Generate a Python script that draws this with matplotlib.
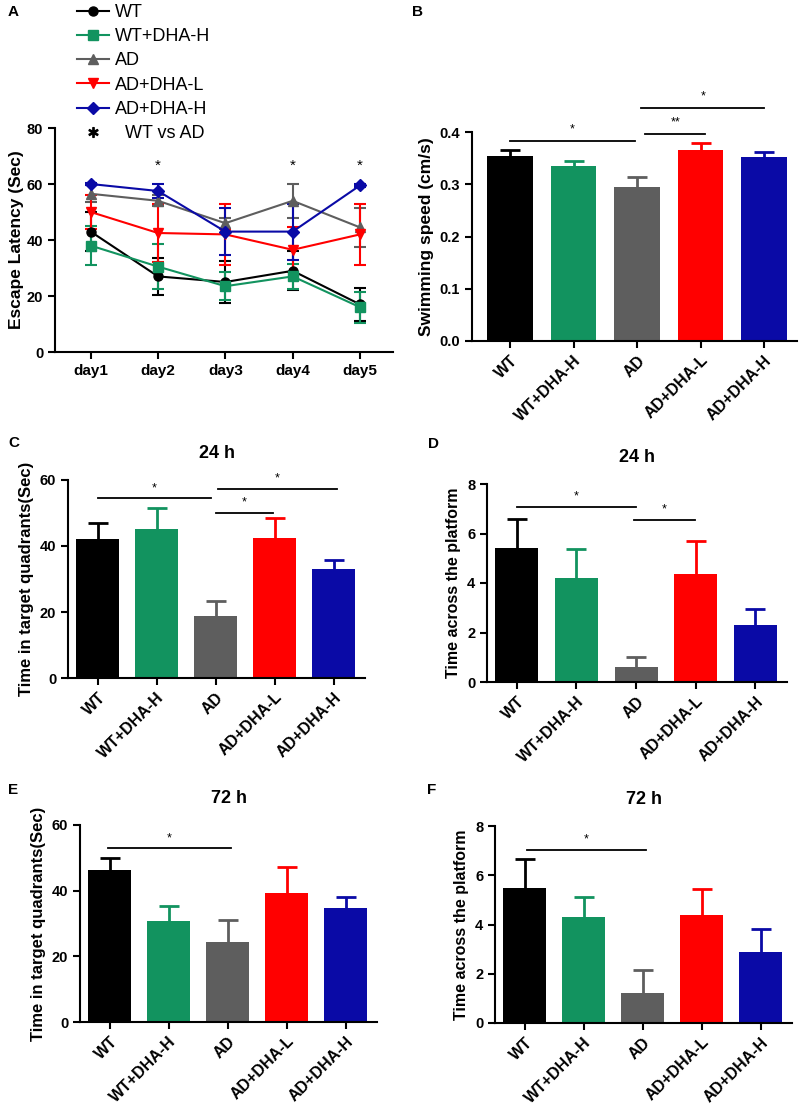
import matplotlib
matplotlib.use("Agg")
import matplotlib.pyplot as plt
from matplotlib.lines import Line2D

plt.rcParams['font.family'] = ['Liberation Sans', 'DejaVu Sans']

W, H = 800, 1104

groups = ["WT", "WT+DHA-H", "AD", "AD+DHA-L", "AD+DHA-H"]
colors = ["#000000", "#12935f", "#5e5e5e", "#ff0000", "#0a0aa6"]
markers = ["o", "s", "^", "v", "D"]

# Panel A: escape latency
days = ["day1", "day2", "day3", "day4", "day5"]
lat_WT = [43, 27, 25, 29, 17]
lat_WT_err = [7, 6.5, 7.5, 7, 6]
lat_WTH = [38, 30.5, 23.5, 27, 16]
lat_WTH_err = [7, 8, 5, 4.5, 5.5]
lat_AD = [56.5, 54, 46, 54, 44.5]
lat_AD_err = [3, 2, 2, 6, 7]
lat_ADL = [50, 42.5, 42, 36.5, 42]
lat_ADL_err = [6, 10.5, 11, 8, 11]
lat_ADH = [60, 57.5, 43, 43, 59.5]
lat_ADH_err = [0.5, 2.5, 8.5, 10, 0.5]
sig_days_A = [2, 4, 5]
sig_y_A = 66.5

# Panel B: swimming speed
speed = [0.355, 0.335, 0.295, 0.366, 0.352]
speed_err = [0.011, 0.010, 0.019, 0.013, 0.009]
sig_B = [(0, 1.96, 0.383, "*", 0.405), (2.13, 3.07, 0.396, "**", 0.418), (2.07, 4.0, 0.446, "*", 0.468)]

# Panel C: 24 h time in target quadrants
quad24 = [42.1, 45.3, 18.9, 42.3, 33.0]
quad24_err = [4.9, 6.3, 4.5, 6.1, 2.9]
sig_C = [(0, 1.92, 54.4, "*", 57.5), (2.0, 2.97, 50.1, "*", 53.2), (2.04, 4.05, 57.4, "*", 60.5)]

# Panel D: 24 h platform crossings
cross24 = [5.40, 4.20, 0.61, 4.36, 2.29]
cross24_err = [1.17, 1.18, 0.40, 1.35, 0.64]
sig_D = [(0, 2.0, 7.06, "*", 7.48), (1.97, 2.98, 6.55, "*", 6.97)]

# Panel E: 72 h time in target quadrants
quad72 = [46.3, 30.7, 24.4, 39.4, 34.75]
quad72_err = [3.8, 4.5, 6.6, 7.9, 3.45]
sig_E = [(-0.02, 2.05, 52.9, "*", 56.0)]

# Panel F: 72 h platform crossings
cross72 = [5.47, 4.29, 1.21, 4.39, 2.87]
cross72_err = [1.21, 0.84, 0.95, 1.05, 0.93]
sig_F = [(0.05, 2.05, 7.04, "*", 7.46)]

fig = plt.figure(figsize=(W / 100, H / 100), dpi=100)


def rect(l, r, t, b):
    return [l / W, 1 - b / H, (r - l) / W, (b - t) / H]


def style(ax, xsize=10.5):
    for s in ["top", "right"]:
        ax.spines[s].set_visible(False)
    for s in ["left", "bottom"]:
        ax.spines[s].set_linewidth(1.5)
    ax.tick_params(width=1.5, length=5, labelsize=10.5)
    ax.tick_params(axis="x", labelsize=xsize)
    for lab in ax.get_xticklabels() + ax.get_yticklabels():
        lab.set_fontweight("bold")


# ---------------- Panel A ----------------
axA = fig.add_axes(rect(55, 393, 128, 352))
series = [(lat_WT, lat_WT_err), (lat_WTH, lat_WTH_err), (lat_AD, lat_AD_err),
          (lat_ADL, lat_ADL_err), (lat_ADH, lat_ADH_err)]
xs = list(range(1, len(days) + 1))
handles = []
for (vals, errs), c, m, g in zip(series, colors, markers, groups):
    ms = 6.5 if m != "D" else 6
    axA.errorbar(xs, vals, yerr=errs, color=c, marker=m, ms=ms, lw=1.5,
                 elinewidth=1.5, capsize=4, capthick=1.5, clip_on=False, zorder=3)
    handles.append(Line2D([], [], color=c, marker=m, ms=ms, lw=1.5, label=g))
handles.append(Line2D([], [], ls="none", marker=r"$\ast$", ms=7, color="black", label="  WT vs AD"))
for d in sig_days_A:
    axA.text(d, sig_y_A, "*", ha="center", va="center", fontsize=11)
axA.set_xlim(0.47, 5.49)
axA.set_ylim(0, 80)
axA.set_yticks([0, 20, 40, 60, 80])
axA.set_xticks(xs)
axA.set_xticklabels(days)
axA.set_ylabel("Escape Latency (Sec)", fontsize=12.5, fontweight="bold", labelpad=2)
style(axA, xsize=11)
fig.legend(handles=handles, loc="upper left", bbox_to_anchor=(77 / W, 1 - 4 / H),
           frameon=False, fontsize=13, handlelength=1.75, handletextpad=0.35,
           labelspacing=0.4, borderpad=0, borderaxespad=0)


# ---------------- bar panels ----------------
def bar_panel(l, r, t, b, vals, errs, ymax, yticks, ylabel, sig, title=None,
              yfmt=None, ylsize=11.5):
    ax = fig.add_axes(rect(l, r, t, b))
    x = list(range(len(groups)))
    ax.bar(x, vals, width=0.72, color=colors, zorder=2)
    for xi, v, e, c in zip(x, vals, errs, colors):
        _, caps, _ = ax.errorbar([xi], [v], yerr=[[0], [e]], color=c, elinewidth=2,
                                 capsize=7, capthick=2, zorder=1)
        caps[0].set_visible(False)
    for x1, x2, y, s, ys in sig:
        ax.plot([x1, x2], [y, y], color="black", lw=1.3, clip_on=False)
        ax.text((x1 + x2) / 2, ys, s, ha="center", va="center", fontsize=9)
    ax.set_xlim(-0.5, 4.53)
    ax.set_ylim(0, ymax)
    ax.set_yticks(yticks)
    if yfmt:
        ax.set_yticklabels([yfmt.format(v) for v in yticks])
    ax.set_xticks(x)
    ax.set_xticklabels(groups, rotation=45, ha="right", rotation_mode="anchor")
    ax.set_ylabel(ylabel, fontsize=ylsize, fontweight="bold")
    if title:
        ax.set_title(title, fontsize=13, fontweight="bold", pad=16)
    style(ax, xsize=11.5)
    return ax


axB = bar_panel(472, 797, 132, 341, speed, speed_err, 0.4, [0, 0.1, 0.2, 0.3, 0.4],
                "Swimming speed (cm/s)", sig_B, yfmt="{:.1f}", ylsize=12.5)
axB.set_xlim(-0.6, 4.52)
axC = bar_panel(68, 365, 480, 678, quad24, quad24_err, 60, [0, 20, 40, 60],
                "Time in target quadrants(Sec)", sig_C, title="24 h", ylsize=12)
axD = bar_panel(487, 787, 484, 682, cross24, cross24_err, 8, [0, 2, 4, 6, 8],
                "Time across the platform", sig_D, title="24 h")
axE = bar_panel(80, 377, 825, 1022, quad72, quad72_err, 60, [0, 20, 40, 60],
                "Time in target quadrants(Sec)", sig_E, title="72 h", ylsize=12)
axF = bar_panel(495, 792, 826, 1023, cross72, cross72_err, 8, [0, 2, 4, 6, 8],
                "Time across the platform", sig_F, title="72 h")

# panel letters
for lab, px, py in [("A", 8, 12), ("B", 412, 12), ("C", 8, 443), ("D", 428, 444),
                    ("E", 8, 790), ("F", 427, 790)]:
    fig.text(px / W, 1 - py / H, lab, fontsize=11, fontweight="bold", ha="left", va="center")

fig.savefig("out.png", dpi=100)
